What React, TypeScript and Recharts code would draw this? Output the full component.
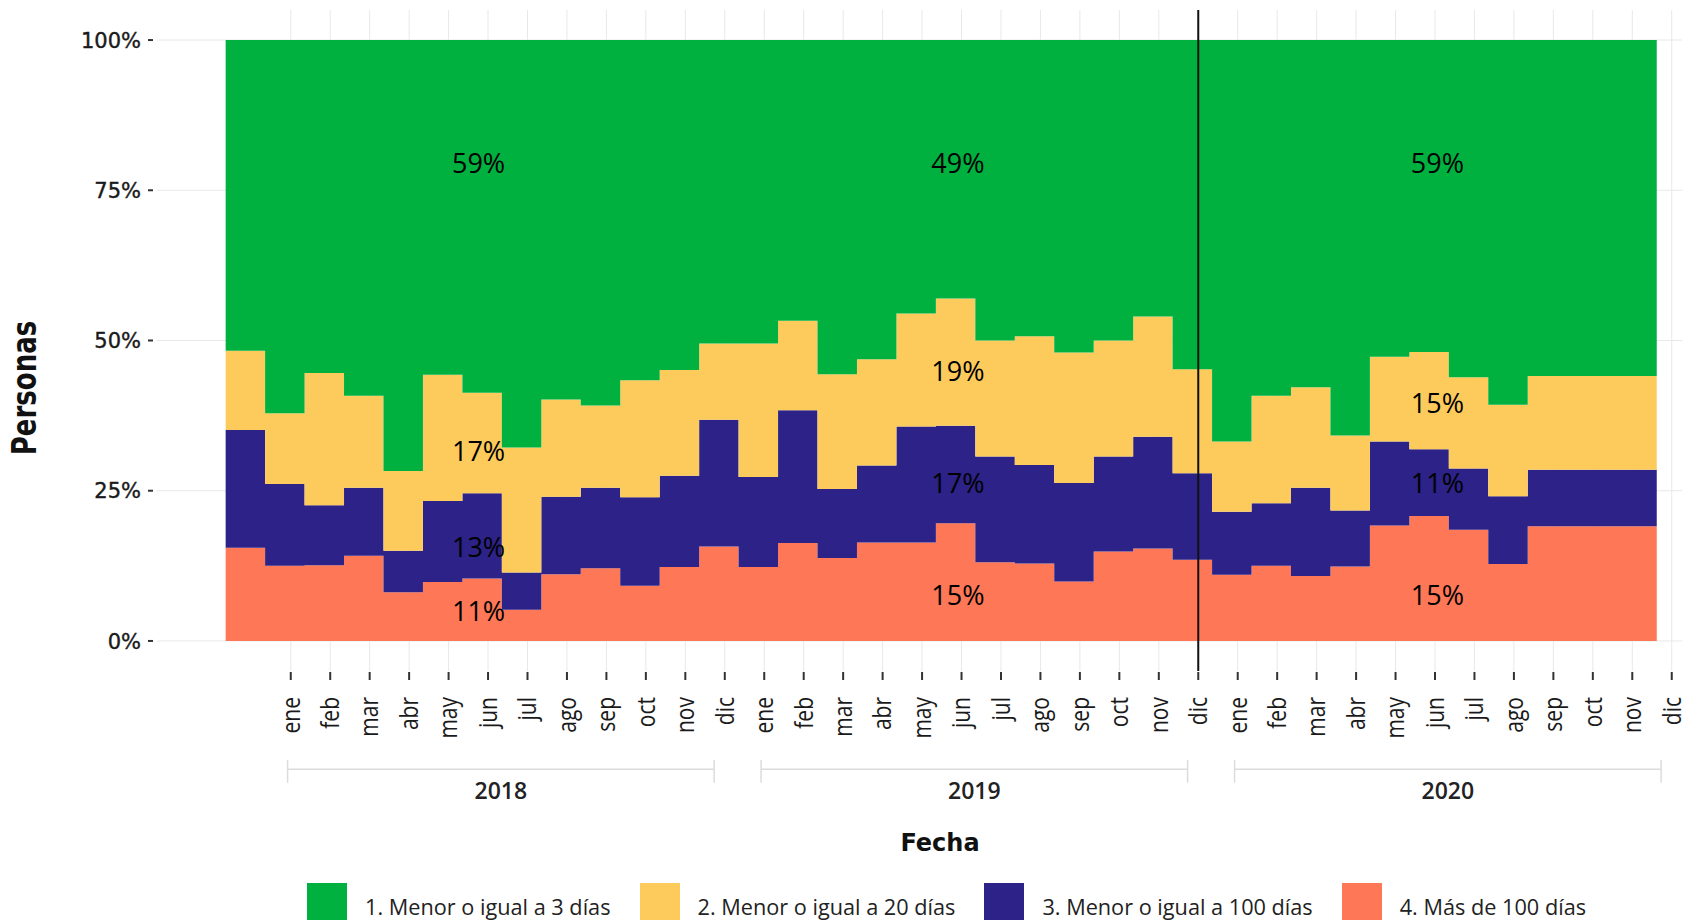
import React from 'react';
import {
  ComposedChart,
  Area,
  XAxis,
  YAxis,
  CartesianGrid,
  ReferenceLine,
  ReferenceDot,
} from 'recharts';

// meses y años del eje
const MONTHS = ['ene', 'feb', 'mar', 'abr', 'may', 'jun', 'jul', 'ago', 'sep', 'oct', 'nov', 'dic'];
const YEARS = ['2018', '2019', '2020'];

// series (% de personas por mes, ene 2018 - dic 2020)
const menor3 = [
  51.7, 62.1, 55.4, 59.2, 71.7, 55.7, 58.7, 67.8, 59.8, 60.8, 56.6, 54.9,
  50.5, 50.5, 46.7, 55.6, 53.1, 45.5, 43.0, 50.0, 49.3, 52.0, 50.0, 46.0,
  54.8, 66.8, 59.2, 57.8, 65.8, 52.7, 51.9, 56.1, 60.7, 55.9, 55.9, 55.9,
];
const menor20 = [
  13.2, 11.8, 22.0, 15.3, 13.3, 21.0, 16.7, 20.8, 16.2, 13.7, 19.5, 17.6,
  12.7, 22.2, 14.9, 19.1, 17.7, 18.8, 21.2, 19.3, 21.4, 21.7, 19.3, 20.0,
  17.3, 11.7, 17.9, 16.7, 12.5, 14.1, 16.2, 15.2, 15.2, 15.6, 15.6, 15.6,
];
const menor100 = [
  19.6, 13.6, 10.0, 11.3, 6.9, 13.5, 14.2, 6.2, 12.9, 13.4, 14.7, 15.2,
  21.1, 15.0, 22.1, 11.5, 12.8, 19.3, 16.2, 17.6, 16.4, 16.4, 15.8, 18.6,
  14.4, 10.5, 10.4, 14.7, 9.3, 14.0, 11.1, 10.2, 11.3, 9.4, 9.4, 9.4,
];
const masDe100 = [
  15.5, 12.5, 12.6, 14.2, 8.1, 9.8, 10.4, 5.2, 11.1, 12.1, 9.2, 12.3,
  15.7, 12.3, 16.3, 13.8, 16.4, 16.4, 19.6, 13.1, 12.9, 9.9, 14.9, 15.4,
  13.5, 11.0, 12.5, 10.8, 12.4, 19.2, 20.8, 18.5, 12.8, 19.1, 19.1, 19.1,
];

// etiquetas de resumen por año (de arriba a abajo)
const summaryLabels = [
  ['59%', '49%', '59%'],
  ['17%', '19%', '15%'],
  ['13%', '17%', '11%'],
  ['11%', '15%', '15%'],
];
const summaryX = [6.41, 18.56, 30.71];
const summaryY = [
  [79.5, 79.5, 79.5],
  [31.5, 44.9, 39.5],
  [15.6, 26.2, 26.2],
  [5.0, 7.65, 7.65],
];

const series = [
  { key: 's4', name: '4. Más de 100 días', color: '#FE7756', values: masDe100 },
  { key: 's3', name: '3. Menor o igual a 100 días', color: '#2C2287', values: menor100 },
  { key: 's2', name: '2. Menor o igual a 20 días', color: '#FDCB5B', values: menor20 },
  { key: 's1', name: '1. Menor o igual a 3 días', color: '#00B140', values: menor3 },
];
const legendOrder = [...series].reverse();

const monthLabels = YEARS.flatMap(() => MONTHS);
const TICK_SHIFT = 1.65; // the source draws month ticks offset from the steps
const LAST_EDGE = 36.27;
const monthTicks = monthLabels.map((_, i) => i + TICK_SHIFT);
const cutTick = monthTicks[23]; // dic 2019

const rows: any[] = monthLabels.map((m, i) => {
  const r: any = { x: i, label: m };
  series.forEach((s) => (r[s.key] = s.values[i]));
  return r;
});
rows.push({ ...rows[rows.length - 1], x: LAST_EDGE });

const annotations = summaryLabels.flatMap((row, r) =>
  row.map((text, c) => ({ text, x: summaryX[c], y: summaryY[r][c] }))
);

const BRACKET_Y = -21.36;
const CAP_TOP = -19.8;
const CAP_BOTTOM = -23.6;
const YEAR_LABEL_Y = -24.97;

const MonthTick = (props: any) => {
  const { x, y, payload } = props;
  const idx = Math.round(payload.value - TICK_SHIFT);
  return (
    <g>
      <line x1={x} x2={x} y1={y + 1} y2={y + 9} stroke="#333" strokeWidth={2} />
      <text
        transform={`translate(${x},${y + 26}) scale(1.2,1) rotate(-90)`}
        textAnchor="end"
        dy="0.35em"
        fontFamily="Open Sans"
        fontWeight={500}
        fontSize={21}
        fill="#1a1a1a"
      >
        {monthLabels[idx]}
      </text>
    </g>
  );
};

const PercentTick = (props: any) => {
  const { x, y, payload } = props;
  return (
    <g>
      <line x1={x - 9} x2={x - 4} y1={y} y2={y} stroke="#333" strokeWidth={2} />
      <text
        x={x - 16}
        y={y}
        dy="0.36em"
        textAnchor="end"
        fontFamily="DejaVu Sans"
        fontSize={21}
        fill="#1a1a1a"
        stroke="#1a1a1a"
        strokeWidth={0.4}
      >
        {`${payload.value}%`}
      </text>
    </g>
  );
};

export default function App() {
  return (
    <div style={{ position: 'absolute', left: 0, top: 0, width: 1682, height: 920, background: '#fff', overflow: 'hidden' }}>
      <ComposedChart width={1682} height={920} data={rows} margin={{ top: 10, right: 0, bottom: 149, left: 0 }}>
        <CartesianGrid stroke="#e8e8e8" strokeWidth={1} syncWithTicks />
        <XAxis
          dataKey="x"
          type="number"
          domain={[-1.74, 36.91]}
          allowDataOverflow
          ticks={monthTicks}
          interval={0}
          axisLine={false}
          tickLine={false}
          tickSize={0}
          tickMargin={0}
          height={100}
          tick={<MonthTick />}
        />
        <YAxis
          type="number"
          domain={[-5, 105]}
          allowDataOverflow
          ticks={[0, 25, 50, 75, 100]}
          axisLine={false}
          tickLine={false}
          tickSize={0}
          tickMargin={0}
          width={157}
          tick={<PercentTick />}
        />
        {series.map((s) => (
          <Area
            key={s.key}
            dataKey={s.key}
            name={s.name}
            stackId="a"
            type="stepAfter"
            fill={s.color}
            fillOpacity={1}
            stroke="none"
            dot={false}
            activeDot={false}
            isAnimationActive={false}
          />
        ))}
        <ReferenceLine x={cutTick} stroke="#111" strokeWidth={2} ifOverflow="visible" />
        {annotations.map((a, i) => (
          <ReferenceDot
            key={`ann-${i}`}
            x={a.x}
            y={a.y}
            r={0}
            ifOverflow="visible"
            shape={(p: any) => (
              <text x={p.cx} y={p.cy} dy="0.36em" textAnchor="middle" fontFamily="Open Sans" fontSize={27} fill="#000">
                {a.text}
              </text>
            )}
          />
        ))}
        {YEARS.map((yr, k) => {
          const start = monthTicks[k * 12] - 0.08;
          const end = monthTicks[k * 12 + 11] - 0.27;
          return (
            <React.Fragment key={yr}>
              <ReferenceLine
                segment={[{ x: start, y: BRACKET_Y }, { x: end, y: BRACKET_Y }]}
                stroke="#dcdcdc"
                strokeWidth={1.5}
                ifOverflow="visible"
              />
              <ReferenceLine
                segment={[{ x: start, y: CAP_TOP }, { x: start, y: CAP_BOTTOM }]}
                stroke="#dcdcdc"
                strokeWidth={1.5}
                ifOverflow="visible"
              />
              <ReferenceLine
                segment={[{ x: end, y: CAP_TOP }, { x: end, y: CAP_BOTTOM }]}
                stroke="#dcdcdc"
                strokeWidth={1.5}
                ifOverflow="visible"
              />
              <ReferenceDot
                x={(start + end) / 2}
                y={YEAR_LABEL_Y}
                r={0}
                ifOverflow="visible"
                shape={(p: any) => (
                  <text x={p.cx} y={p.cy} dy="0.36em" textAnchor="middle" fontFamily="Open Sans" fontWeight={600} fontSize={23} fill="#222">
                    {yr}
                  </text>
                )}
              />
            </React.Fragment>
          );
        })}
      </ComposedChart>

      <div
        style={{
          position: 'absolute',
          left: 24,
          top: 388,
          transform: 'translate(-50%,-50%) scaleX(1.3) rotate(-90deg)',
          fontFamily: 'DejaVu Sans',
          fontWeight: 700,
          fontSize: 26,
          color: '#111',
          whiteSpace: 'nowrap',
        }}
      >
        Personas
      </div>
      <div
        style={{
          position: 'absolute',
          left: 940,
          top: 843,
          transform: 'translate(-50%,-50%)',
          fontFamily: 'DejaVu Sans',
          fontWeight: 700,
          fontSize: 24,
          color: '#111',
          whiteSpace: 'nowrap',
        }}
      >
        Fecha
      </div>

      <div style={{ position: 'absolute', left: 307, top: 883, display: 'flex', alignItems: 'flex-start' }}>
        {legendOrder.map((s) => (
          <div key={s.key} style={{ display: 'flex', alignItems: 'flex-start', marginRight: 29 }}>
            <div style={{ width: 40, height: 40, background: s.color }} />
            <div
              style={{
                marginLeft: 18,
                lineHeight: '47px',
                fontFamily: 'Open Sans',
                fontSize: 21.7,
                color: '#222',
                whiteSpace: 'nowrap',
              }}
            >
              {s.name}
            </div>
          </div>
        ))}
      </div>
    </div>
  );
}
